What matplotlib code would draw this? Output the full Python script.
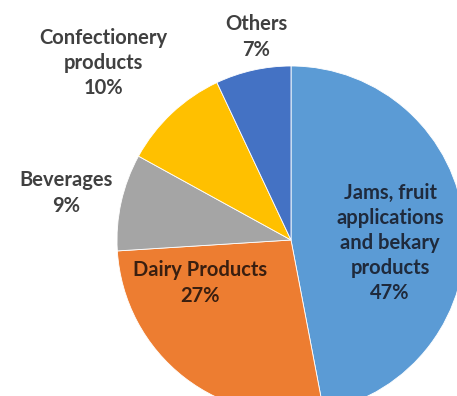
import matplotlib
matplotlib.use("Agg")
import matplotlib.pyplot as plt

categories = ["Jams, fruit\napplications\nand bekary\nproducts", "Dairy Products", "Beverages",
              "Confectionery\nproducts", "Others"]
values = [47, 27, 9, 10, 7]
colors = ["#5B9BD5", "#ED7D31", "#A5A5A5", "#FFC000", "#4472C4"]

W, H = 457, 396
fig = plt.figure(figsize=(W / 100, H / 100), dpi=100)
ax = fig.add_axes([0, 0, 1, 1])

cx, cy, r = 291, H - 240, 174
ax.pie(values, colors=colors, startangle=90, counterclock=False,
       center=(cx, cy), radius=r, frame=True,
       wedgeprops=dict(edgecolor="white", linewidth=0.6))
ax.set_xlim(0, W)
ax.set_ylim(0, H)
ax.set_aspect("equal")
ax.axis("off")

# label positions in pixel coordinates (x, y from top)
label_pos = [(390, 243), (200, 283), (66, 193), (103, 63), (256, 37)]
label_colors = ["#1F2A3C", "#3A1F10", "#404040", "#404040", "#404040"]
for cat, v, (x, y), c in zip(categories, values, label_pos, label_colors):
    ax.text(x, H - y, f"{cat}\n{v}%", ha="center", va="center", fontsize=14.5,
            fontweight="bold", family="Lato", color=c, linespacing=1.32)

fig.savefig("out.png", dpi=100)
